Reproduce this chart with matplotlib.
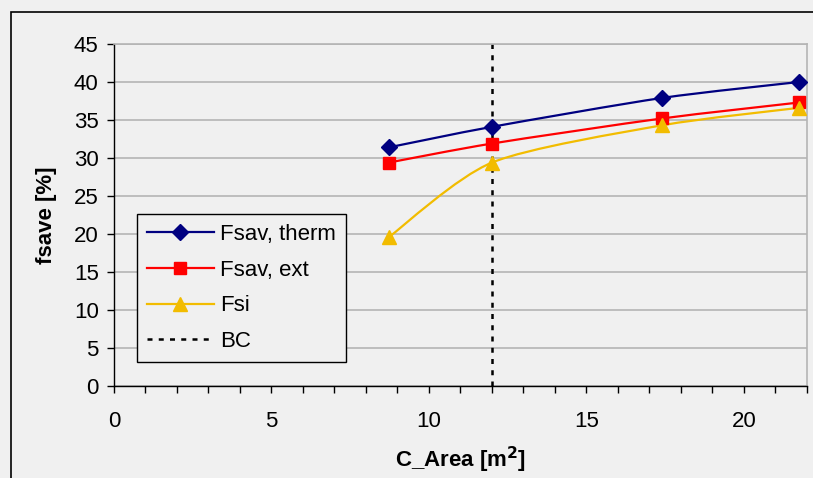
import matplotlib.pyplot as plt
from matplotlib.path import Path
from matplotlib.patches import PathPatch, Rectangle
from matplotlib.lines import Line2D
from matplotlib.ticker import MultipleLocator

plt.rcParams['font.family'] = ['Liberation Sans', 'DejaVu Sans']

# Data
c_area = [8.73, 12.0, 17.4, 21.75]
fsav_therm = [31.4, 34.1, 37.9, 40.0]
fsav_ext = [29.4, 31.9, 35.2, 37.3]
fsi = [19.6, 29.4, 34.3, 36.6]
bc_x = 12.0

bg = '#f0f0f0'
col_therm = '#000080'
col_ext = '#ff0000'
col_fsi = '#f2bc00'


def smooth_path(xs, ys, k=1 / 6):
    # Excel-style smoothed line: cubic Bezier segments through the points
    pts = list(zip(xs, ys))
    n = len(pts)
    verts = [pts[0]]
    codes = [Path.MOVETO]
    for i in range(n - 1):
        p0 = pts[i - 1] if i > 0 else pts[i]
        p1 = pts[i]
        p2 = pts[i + 1]
        p3 = pts[i + 2] if i + 2 < n else pts[i + 1]
        c1 = (p1[0] + (p2[0] - p0[0]) * k, p1[1] + (p2[1] - p0[1]) * k)
        c2 = (p2[0] - (p3[0] - p1[0]) * k, p2[1] - (p3[1] - p1[1]) * k)
        verts += [c1, c2, p2]
        codes += [Path.CURVE4] * 3
    return Path(verts, codes)


fig = plt.figure(figsize=(8.13, 4.78), dpi=100, facecolor=bg)
ax = fig.add_axes([0.1402, 0.1925, 0.8524, 0.7155], facecolor=bg)

series = [
    (fsav_therm, col_therm, 'D', 8, 'Fsav, therm'),
    (fsav_ext, col_ext, 's', 8, 'Fsav, ext'),
    (fsi, col_fsi, '^', 10, 'Fsi'),
]
handles = []
for ys, col, mk, ms, lab in series:
    ax.add_patch(PathPatch(smooth_path(c_area, ys, 0.13), fill=False, edgecolor=col,
                           lw=1.6, zorder=3))
    ax.plot(c_area, ys, linestyle='none', marker=mk, color=col, markersize=ms, zorder=4)
    handles.append(Line2D([], [], color=col, lw=1.6, marker=mk, markersize=ms, label=lab))

ax.axvline(bc_x, color='black', lw=1.8, linestyle=(0, (2, 2.5)), zorder=2)
handles.append(Line2D([], [], color='black', lw=1.8, linestyle=(0, (2, 2.5)), label='BC'))

ax.set_xlim(0, 22)
ax.set_ylim(0, 45)
ax.xaxis.set_major_locator(MultipleLocator(5))
ax.xaxis.set_minor_locator(MultipleLocator(1))
ax.yaxis.set_major_locator(MultipleLocator(5))
ax.grid(axis='y', color='#b4b4b4', lw=1.2, zorder=0)
ax.set_axisbelow(True)

for s in ['top', 'right']:
    ax.spines[s].set_color('#b4b4b4')
    ax.spines[s].set_linewidth(1.2)
for s in ['left', 'bottom']:
    ax.spines[s].set_color('black')
    ax.spines[s].set_linewidth(1.0)

ax.tick_params(axis='both', which='both', direction='out', length=5, width=1,
               labelsize=16, pad=6)
ax.tick_params(axis='x', pad=13)

ax.set_xlabel('C_Area [m$^{\\mathbf{2}}$]', fontsize=16, fontweight='bold', labelpad=9)
ax.set_ylabel('fsave [%]', fontsize=16, fontweight='bold', labelpad=12)

leg = ax.legend(handles=handles, loc='upper left', bbox_to_anchor=(0.033, 0.503),
                borderaxespad=0, fontsize=16, frameon=True, fancybox=False,
                facecolor=bg, edgecolor='black', framealpha=1,
                handlelength=3.0, handletextpad=0.3, labelspacing=0.66,
                borderpad=0.45)
leg.get_frame().set_linewidth(1.0)

# outer chart border
fig.add_artist(Rectangle((11 / 813, -0.1), 1.2, 1 - 12 / 478 + 0.1,
                         transform=fig.transFigure, fill=False,
                         edgecolor='black', lw=1.2))

fig.savefig('out.png', dpi=100, facecolor=bg)
